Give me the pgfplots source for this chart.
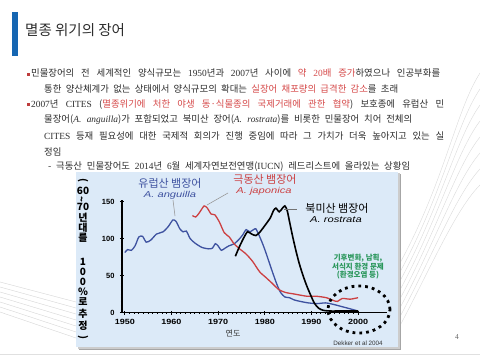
\documentclass[border=0pt]{standalone}
\usepackage{graphicx}
\usepackage{pgfplots}
\pgfplotsset{compat=1.18}
\usepackage{fontspec}
\setmainfont{Noto Sans CJK KR}
\newfontfamily\lsans{Liberation Sans}
\newfontfamily\lserif{Liberation Serif}
\definecolor{panel}{RGB}{220,234,248}
\definecolor{blueline}{RGB}{62,82,160}
\definecolor{redline}{RGB}{204,64,66}
\definecolor{txtred}{RGB}{214,74,74}
\definecolor{bulc}{RGB}{190,60,60}
\definecolor{txt}{RGB}{45,45,45}
\definecolor{titlebar}{RGB}{22,102,178}
\definecolor{grn}{RGB}{40,150,90}
\newcommand{\bul}{\textcolor{bulc}{\rule[0.1em]{0.32em}{0.32em}}\hspace{0.1em}}
\newcommand{\rd}[1]{\textcolor{txtred}{#1}}
\newcommand{\la}[1]{{\lserif #1}}
\newcommand{\li}[1]{{\lserif\itshape #1}}
\newcommand{\body}{\fontsize{9.4}{11}\selectfont\color{txt}}
\begin{document}
\begin{tikzpicture}[x=1pt,y=1pt]
\useasboundingbox (0,0) rectangle (480,360);
\fill[white] (0,0) rectangle (480,360);
% background decoration
\foreach \k in {0,...,7}{
  \draw[black!14, line width=0.4pt] (395,{25+\k*9}) .. controls ({430+\k*2},{90+\k*12}) and ({455},{150+\k*14}) .. (480,{175+\k*16});
}
\foreach \k in {0,...,6}{
  \draw[black!16, line width=0.4pt] (0,{78-\k*5}) -- (76,{58-\k*6});
}
\draw[black!12, line width=0.6pt] (0,6) -- (480,6);
% title
\fill[titlebar] (12,304) rectangle (18,348);
\node[anchor=west, inner sep=0, text=txt] at (25,330) {\fontsize{14.5}{16}\selectfont 멸종 위기의 장어};
% body text
\node[anchor=west, inner sep=0] at (27,287) {\body\makebox[413pt][s]{\bul 민물장어의 전 세계적인 양식규모는 \la{1950}년과 \la{2007}년 사이에 \rd{약 \la{20}배 증가}하였으나 인공부화를}};
\node[anchor=west, inner sep=0] at (44,271) {\body\makebox[354pt][s]{통한 양산체계가 없는 상태에서 양식규모의 확대는 \rd{실장어 채포량의 급격한 감소}를 초래}};
\node[anchor=west, inner sep=0] at (27,256) {\body\makebox[417pt][s]{\bul\la{2007}년 \la{CITES} (\rd{멸종위기에 처한 야생 동·식물종의 국제거래에 관한 협약}) 보호종에 유럽산 민}};
\node[anchor=west, inner sep=0] at (44,240) {\body\makebox[368pt][s]{물장어(\li{A. anguilla})가 포함되었고 북미산 장어(\li{A. rostrata})를 비롯한 민물장어 치어 전체의}};
\node[anchor=west, inner sep=0] at (44,224) {\body\makebox[400pt][s]{\la{CITES} 등재 필요성에 대한 국제적 회의가 진행 중임에 따라 그 가치가 더욱 높아지고 있는 실}};
\node[anchor=west, inner sep=0] at (44,208) {\body 정임};
\node[anchor=west, inner sep=0] at (48,193) {\body\makebox[362pt][s]{- 극동산 민물장어도 \la{2014}년 \la{6}월 세계자연보전연맹(\la{IUCN}) 레드리스트에 올라있는 상황임}};
% panel
\fill[black!35] (79,10) rectangle (401,186);
\fill[black!20] (78,11) rectangle (400,187);
\fill[panel] (76,13) rectangle (398,188);
% y label (stacked)
\begin{scope}[every node/.style={inner sep=0, font=\fontsize{10}{10}\selectfont\bfseries}]
\node at (83,180) {\rotatebox{-90}{(}};
\node at (83,169) {60};
\node at (83,161) {\rotatebox{90}{\textasciitilde}};
\node at (83,153) {70};
\node at (83,142) {년};
\node at (83,132) {대};
\node at (83,122) {를};
\node at (83,98) {1};
\node at (83,88) {0};
\node at (83,78) {0};
\node at (83,68) {\%};
\node at (83,58) {로};
\node at (83,46) {추};
\node at (83,34) {정};
\node at (83,23) {\rotatebox{-90}{)}};
\end{scope}
\begin{axis}[
  at={(122pt,47.5pt)}, anchor=south west,
  scale only axis, width=265pt, height=112.5pt,
  xmin=1949.4, xmax=2006.2, ymin=0, ymax=152,
  axis lines=left,
  axis line style={-, line width=1.1pt, black},
  every outer x axis line/.append style={-},
  every outer y axis line/.append style={-},
  xtick={1950,1960,1970,1980,1990,2000},
  ytick={0,50,100,150},
  minor x tick num=9, minor y tick num=9,
  tick align=center,
  major tick length=4pt, minor tick length=2pt,
  tick style={black, line width=0.6pt},
  /pgf/number format/assume math mode=true,
  /pgf/number format/1000 sep={},
  tick label style={font=\fontsize{7.5}{8}\selectfont\lsans\bfseries},
  xticklabel={\scalebox{1.2}[1]{\pgfmathprintnumber[1000 sep={},assume math mode=true]{\tick}}},
  yticklabel style={xshift=-2pt},
  xticklabel style={yshift=-1pt},
  clip=false,
]
\addplot[blueline, line width=1.3pt, smooth, tension=0.4] coordinates {
(1950,81) (1950.6,85) (1951.4,84) (1952.2,90) (1953,102) (1953.8,103) (1954.6,95) (1955.6,98) (1956.8,106) (1958.2,109) (1959.3,116) (1960.3,125) (1961,123) (1961.8,113) (1962.5,109) (1963.2,110) (1964,100) (1965,94) (1966.5,88) (1968,86) (1968.8,87) (1969.4,93) (1970,90) (1970.7,84) (1971.5,87) (1972.3,90) (1973.5,93) (1974.5,99) (1975.3,105) (1976,112) (1976.8,109) (1977.6,112) (1978.1,113) (1978.8,104) (1979.6,92) (1980.4,78) (1981.2,63) (1981.8,52) (1982.6,38) (1983.4,27) (1984.3,21) (1985.3,20) (1986.3,17) (1987.6,15) (1989.3,13) (1991.2,12) (1993,13) (1994.7,11) (1996.5,8) (1998.3,5) (2000,2)
};
\addplot[redline, line width=1.3pt, smooth, tension=0.4] coordinates {
(1964.5,131) (1965.2,129) (1966,135) (1967,144) (1967.7,141) (1968.5,133) (1969.3,132) (1970.3,122) (1971.3,108) (1972.4,102) (1973.4,93) (1974.6,86) (1976,79) (1977.4,69) (1978.9,55) (1980.3,47) (1981.5,40) (1983,31) (1984.5,27) (1986.3,25) (1989,22) (1991,22) (1993.2,20) (1994.8,16) (1995.6,15) (1996.6,19) (1998.3,18) (2000,20)
};
\addplot[black, line width=1.6pt, smooth, tension=0.4] coordinates {
(1973.7,76) (1974.5,88) (1975.5,101) (1976.3,109) (1977.2,106) (1978.1,104) (1979,109) (1980.2,119) (1981.2,128) (1981.9,138) (1982.4,141) (1983.1,136) (1983.8,141) (1984.3,144) (1984.8,138) (1985.4,120) (1986,102) (1986.7,83) (1987.4,66) (1988.2,50) (1989,36) (1989.8,24) (1990.6,13) (1991.5,6) (1992.5,3) (1994,2) (1996,2) (2000,2)
};
\end{axis}
% leader lines
\draw[black!40, line width=0.6pt] (173,160) -- (175,144);
\draw[black!40, line width=0.6pt] (207,155) -- (228,167);
\draw[black!55, line width=0.6pt] (284,151) -- (297,151);
% series labels
\node[text=blueline, inner sep=0] at (170,177) {\fontsize{11}{12}\selectfont 유럽산 뱀장어};
\node[text=blueline, inner sep=0] at (170,165) {\scalebox{1.3}[1]{\fontsize{8.6}{9}\selectfont\lsans\itshape A. anguilla}};
\node[text=redline, inner sep=0] at (265,181) {\fontsize{11}{12}\selectfont 극동산 뱀장어};
\node[text=redline, inner sep=0] at (264,169) {\scalebox{1.3}[1]{\fontsize{8.6}{9}\selectfont\lsans\itshape A. japonica}};
\node[text=black, inner sep=0] at (337,152) {\fontsize{11}{12}\selectfont 북미산 뱀장어};
\node[text=black, inner sep=0] at (336,140) {\scalebox{1.3}[1]{\fontsize{8.6}{9}\selectfont\lsans\itshape A. rostrata}};
% green note
\node[text=grn, inner sep=0] at (358,102) {\fontsize{7.5}{8}\selectfont\bfseries 기후변화, 남획,};
\node[text=grn, inner sep=0] at (358,93) {\fontsize{7.5}{8}\selectfont\bfseries 서식지 환경 문제};
\node[text=grn, inner sep=0] at (358,85) {\fontsize{7.5}{8}\selectfont\bfseries (환경오염 등)};
% dotted ellipse
\draw[black, line width=2.8pt, dash pattern=on 2.8pt off 4pt] (359,50.5) ellipse [x radius=31, y radius=23.5];
% axis title and source
\node[text=black!80, inner sep=0] at (233,27) {\fontsize{8}{9}\selectfont 연도};
\node[text=black!80, inner sep=0] at (358,17) {\fontsize{6.3}{7}\selectfont\lsans Dekker et al 2004};
% page number
\node[text=black!60, inner sep=0] at (457,23) {\fontsize{7.5}{8}\selectfont\lserif 4};
\end{tikzpicture}
\end{document}
